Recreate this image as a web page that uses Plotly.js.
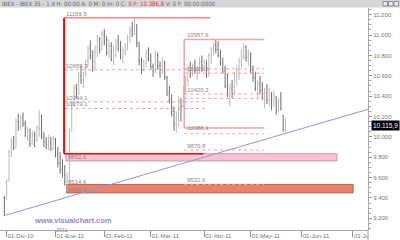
<!DOCTYPE html>
<html><head><meta charset="utf-8">
<script src="https://cdn.plot.ly/plotly-3.0.1.min.js"></script>
<style>html,body{margin:0;padding:0;background:#fff;overflow:hidden}#chart{width:400px;height:240px}</style>
</head><body><div id="chart"></div>
<script>
// ---- data: daily bars, index 0 = 01-Dic-10 (trading-day index) ----
const firstBarIndex = -1;
const open = [9400,
 9390,9570,9850,9950,9900,10150,10090,10190,10130,10020,
 10070,9930,10040,9960,10090,10210,10000,9950,9900,9990,
 9880,9980,9820,9740,9680,9620,9560,9600,10060,10330,
 10480,10420,10600,10560,10620,10740,10860,10800,10680,10880,
 10960,10860,11010,10940,10830,10900,10760,10870,10930,10870,
 10790,10850,10900,10980,11050,11010,11100,10920,10740,10660,
 10720,10820,10780,10690,10640,10820,10700,10660,10720,10580,
 10430,10360,10250,10120,10200,10350,10300,10480,10560,10680,
 10620,10700,10650,10680,10740,10700,10740,10600,10800,10860,
 10900,10860,10800,10720,10650,10500,10420,10480,10420,10600,
 10660,10740,10820,10880,10780,10820,10660,10580,10480,10520,
 10460,10400,10440,10360,10420,10300,10400,10260,10350,10210,
 10070];
const high = [9420,
 9580,9870,9990,10010,10180,10230,10210,10240,10160,10100,
 10080,10060,10050,10110,10260,10220,10050,10000,10020,10000,
 10010,9990,9900,9850,9780,9720,9650,10090,10350,10510,
 10520,10640,10700,10640,10760,10900,10950,10850,10900,11000,
 10980,11040,11060,10990,10960,10930,10900,10960,11000,10940,
 10880,10920,11000,11080,11130,11169.5,11110,10930,10780,10760,
 10860,10880,10820,10720,10850,10830,10740,10780,10750,10600,
 10500,10420,10300,10250,10400,10380,10500,10600,10700,10740,
 10720,10760,10700,10780,10800,10760,10750,10820,10880,10930,
 10957.6,10940,10860,10780,10700,10620,10520,10560,10640,10700,
 10780,10860,10920,10900,10860,10830,10700,10640,10560,10600,
 10540,10480,10520,10480,10440,10460,10400,10380,10440,10215,
 10185];
const low = [9228,
 9380,9560,9800,9870,9890,10060,10070,10100,10000,9960,
 9900,9920,9900,9950,10000,9980,9900,9880,9870,9860,
 9870,9800,9700,9640,9600,9520,9460,9550,10050,10300,
 10380,10410,10520,10480,10580,10680,10760,10640,10670,10780,
 10820,10850,10900,10800,10770,10740,10700,10780,10840,10760,
 10720,10800,10850,10930,10980,11000,10880,10700,10620,10640,
 10680,10740,10660,10590,10630,10660,10580,10620,10560,10400,
 10330,10200,10060,10040,10100,10150,10290,10420,10500,10580,
 10600,10620,10560,10620,10640,10650,10580,10590,10720,10800,
 10820,10780,10700,10620,10480,10390,10300,10380,10410,10500,
 10560,10680,10760,10740,10700,10620,10540,10450,10380,10420,
 10360,10280,10320,10300,10260,10300,10220,10240,10260,10050,
 10045];
const close = [9267,
 9560,9850,9950,9900,10150,10090,10190,10130,10020,10070,
 9930,10040,9960,10090,10210,10000,9950,9900,9990,9880,
 9980,9820,9740,9680,9620,9560,9600,10060,10330,10480,
 10420,10600,10560,10620,10740,10860,10800,10680,10880,10960,
 10860,11010,10940,10830,10900,10760,10870,10930,10870,10790,
 10850,10900,10980,11050,11010,11100,10920,10740,10660,10720,
 10820,10780,10690,10640,10820,10700,10660,10720,10580,10430,
 10360,10250,10120,10200,10350,10300,10480,10560,10680,10620,
 10700,10650,10680,10740,10700,10740,10600,10800,10860,10900,
 10860,10800,10720,10650,10500,10420,10480,10420,10600,10660,
 10740,10820,10880,10780,10820,10660,10580,10480,10520,10460,
 10400,10440,10360,10420,10300,10400,10260,10350,10280,10070,
 10115.9];

const monthTickIndex = [0, 21, 42, 62, 85, 105, 127, 149];
const monthTickText = ['01-Dic-10','01-Ene-11','01-Feb-11','01-Mar-11','01-Abr-11','01-May-11','01-Jun-11','01-Jul-11'];
const priceTickVals = [9200, 9400, 9600, 9800, 10000, 10200, 10400, 10600, 10800, 11000, 11200];
const priceTickText = ['9.200','9.400','9.600','9.800','10.000','10.200','10.400','10.600','10.800','11.000','11.200'];

// drawing studies
const study1Range = [11169.5, 9833.9];          // high, low
const study1Levels = [10659.3, 10344.1, 10279.1];
const study1Labels = ['10659,3', '10344,1', '10279,1'];
const study2Range = [10957.6, 10088.1];
const study2Levels = [10667.8, 10625.5, 10420.2, 10377.9, 10030.0, 9870.8, 9532.6];
const study2Labels = ['', '10625,5', '10420,2', '', '', '9870,8', '9532,6'];
const study1Span = [24.7, 86.6];   // bar index start / end
const study2Span = [76.4, 110.7];
const pinkZone = [9763, 9833.9];
const pinkZoneSpan = [25.5, 142.1];
const orangeZone = [9449, 9532.6];
const orangeZoneSpan = [25.8, 149.1];
const zoneLabels = [['9852,6', 9798], ['9514,6', 9514.6], ['9482,4', 9482.4]];
const trendX = [-1.45, 155.5];
const trendY = [9224, 10271];
const lastPrice = 10115.9;
const lastPriceText = '10.115,9';
const headerText = 'IBEX - IBEX 35 - 1 d H: 00:00 A: 0 M: 0 m: 0 C: 0 <span style="color:#e03030">P: 10.386,8</span> V: 0 F: 00:00:0000';

// ---- build ----
const xIdx = open.map((_, k) => k + firstBarIndex);
const X0 = -2.88, X1 = 155.5, Y0 = 9085, Y1 = 11266;
const PW = 368, PT = 8, PB = 230;
const px = v => v / PW;
const py = v => (PB - v) / (PB - PT);
const labelFont = {family: 'Liberation Sans, Arial, sans-serif', size: 6, color: '#8a8a8a'};

const shapes = [];
function hline(y, x0, x1, color, width, dash) {
  shapes.push({type: 'line', xref: 'x', yref: 'y', x0: x0, x1: x1, y0: y, y1: y,
    line: {color: color, width: width, dash: dash || 'solid'}});
}
function vline(x, y0, y1, color, width) {
  shapes.push({type: 'line', xref: 'x', yref: 'y', x0: x, x1: x, y0: y0, y1: y1,
    line: {color: color, width: width}});
}
// zones
shapes.push({type: 'rect', xref: 'x', yref: 'y', x0: pinkZoneSpan[0], x1: pinkZoneSpan[1],
  y0: pinkZone[0], y1: pinkZone[1], fillcolor: '#ffc3cf', line: {color: '#b9a0a4', width: 1}, layer: 'below'});
shapes.push({type: 'rect', xref: 'x', yref: 'y', x0: orangeZoneSpan[0], x1: orangeZoneSpan[1],
  y0: orangeZone[0], y1: orangeZone[1], fillcolor: '#e8826b', line: {color: '#b5664f', width: 1}, layer: 'below'});
// study 1
study1Levels.forEach(l => hline(l, study1Span[0], study1Span[1], '#f2a0a0', 1, 'dot'));
hline(study1Range[0], study1Span[0], study1Span[1] + 1, '#f08a8a', 1.5);
hline(study1Range[1], study1Span[0], study1Span[1] - 2, '#e01010', 1.5);
vline(study1Span[0], study1Range[0], study1Range[1], '#ff0000', 2);
// study 2
study2Levels.forEach(l => hline(l, study2Span[0], study2Span[1], '#f2a0a0', 1, 'dot'));
hline(study2Range[0], study2Span[0], study2Span[1], '#f4a4a4', 1.5);
hline(study2Range[1], study2Span[0], study2Span[1], '#f4a4a4', 1.5);
vline(study2Span[0], study2Range[0], study2Range[1], '#f4a4a4', 1.5);

// header bar & chrome
shapes.push({type: 'rect', xref: 'paper', yref: 'paper', x0: px(0), x1: px(400), y0: py(7.5), y1: py(0),
  fillcolor: '#d6d6d6', line: {width: 0}, layer: 'above'});
[383, 388.5, 394].forEach(xx => shapes.push({type: 'rect', xref: 'paper', yref: 'paper',
  x0: px(xx), x1: px(xx + 4.5), y0: py(6), y1: py(1.5), fillcolor: '#ececec', line: {color: '#7a7a7a', width: 0.8}, layer: 'above'}));
// hide x label overflow beyond the price scale
shapes.push({type: 'rect', xref: 'paper', yref: 'paper', x0: 1.0015, x1: px(400), y0: py(240), y1: py(230.5),
  fillcolor: '#ffffff', line: {width: 0}, layer: 'above'});
shapes.push({type: 'line', xref: 'paper', yref: 'paper', x0: 1, x1: 1, y0: py(240), y1: 0,
  line: {color: '#a8a8a8', width: 1}, layer: 'above'});

const annotations = [];
function lab(text, x, y, ya) {
  if (!text) return;
  annotations.push({text: text, x: x, y: y, xref: 'x', yref: 'y', xanchor: 'left', yanchor: ya || 'bottom',
    showarrow: false, font: labelFont, borderpad: 0});
}
lab('11169,5', study1Span[0] + 0.6, study1Range[0]);
study1Levels.forEach((l, k) => lab(study1Labels[k], study1Span[0] + 0.6, l));
lab('10957,6', study2Span[0] + 0.6, study2Range[0]);
lab('10088,1', study2Span[0] + 0.6, study2Range[1], 'middle');
study2Levels.forEach((l, k) => lab(study2Labels[k], study2Span[0] + 0.6, l));
zoneLabels.forEach(z => lab(z[0], pinkZoneSpan[0] + 0.4, z[1], z[0] === '9514,6' ? 'bottom' : 'middle'));

annotations.push({text: headerText, xref: 'paper', yref: 'paper', x: px(1), y: py(3.8), xanchor: 'left', yanchor: 'middle',
  showarrow: false, borderpad: 0, font: {family: 'Liberation Sans Narrow, DejaVu Sans Condensed, sans-serif', size: 6, color: '#666666'}});
annotations.push({text: lastPriceText, xref: 'paper', yref: 'y', x: px(371), y: lastPrice, xanchor: 'left', yanchor: 'middle',
  showarrow: false, bgcolor: '#000000', borderpad: 1, font: {family: 'Liberation Sans, Arial, sans-serif', size: 6.5, color: '#ffffff'}});
annotations.push({text: '2011', xref: 'x', yref: 'paper', x: monthTickIndex[1], y: py(229.8), xanchor: 'left', yanchor: 'middle',
  showarrow: false, borderpad: 0, font: {family: 'Liberation Sans, Arial, sans-serif', size: 5.5, color: '#8a8a8a'}});
annotations.push({text: '<b>www.visualchart.com</b>', xref: 'paper', yref: 'paper', x: px(33), y: py(220.5), xanchor: 'left', yanchor: 'middle',
  showarrow: false, borderpad: 0, font: {family: 'Liberation Sans, Arial, sans-serif', size: 7.5, color: '#8d8dc2'}});

const traces = [
  {type: 'ohlc', x: xIdx, open: open, high: high, low: low, close: close, tickwidth: 0.25,
   increasing: {line: {color: '#b8b8b8', width: 1}}, decreasing: {line: {color: '#6c6c6c', width: 1}},
   hoverinfo: 'skip', showlegend: false},
  {type: 'scatter', mode: 'lines', x: trendX, y: trendY, line: {color: '#8b96e6', width: 1},
   hoverinfo: 'skip', showlegend: false}
];

const layout = {
  width: 400, height: 240,
  margin: {l: 0, r: 32, t: 8, b: 10, pad: 0},
  paper_bgcolor: '#ffffff', plot_bgcolor: '#ffffff',
  showlegend: false,
  xaxis: {range: [X0, X1], tickmode: 'array', tickvals: monthTickIndex, ticktext: monthTickText,
    ticks: 'outside', ticklen: 6, tickcolor: '#909090', showline: true, linecolor: '#a8a8a8', linewidth: 1,
    showgrid: false, zeroline: false, ticklabelposition: 'outside right', automargin: false,
    tickfont: {family: 'Liberation Sans, Arial, sans-serif', size: 6, color: '#777777'},
    rangeslider: {visible: false}, fixedrange: true},
  yaxis: {side: 'right', range: [Y0, Y1], tickmode: 'array', tickvals: priceTickVals, ticktext: priceTickText,
    ticks: 'outside', ticklen: 3, tickcolor: '#909090', showline: true, linecolor: '#a8a8a8', linewidth: 1,
    showgrid: false, zeroline: false, automargin: false,
    minor: {tickmode: 'linear', tick0: 9200, dtick: 50, ticks: 'outside', ticklen: 2, tickcolor: '#a0a0a0'},
    tickfont: {family: 'Liberation Sans, Arial, sans-serif', size: 6, color: '#777777'}, fixedrange: true},
  shapes: shapes,
  annotations: annotations
};

Plotly.newPlot('chart', traces, layout, {staticPlot: true, displayModeBar: false});
</script></body></html>
